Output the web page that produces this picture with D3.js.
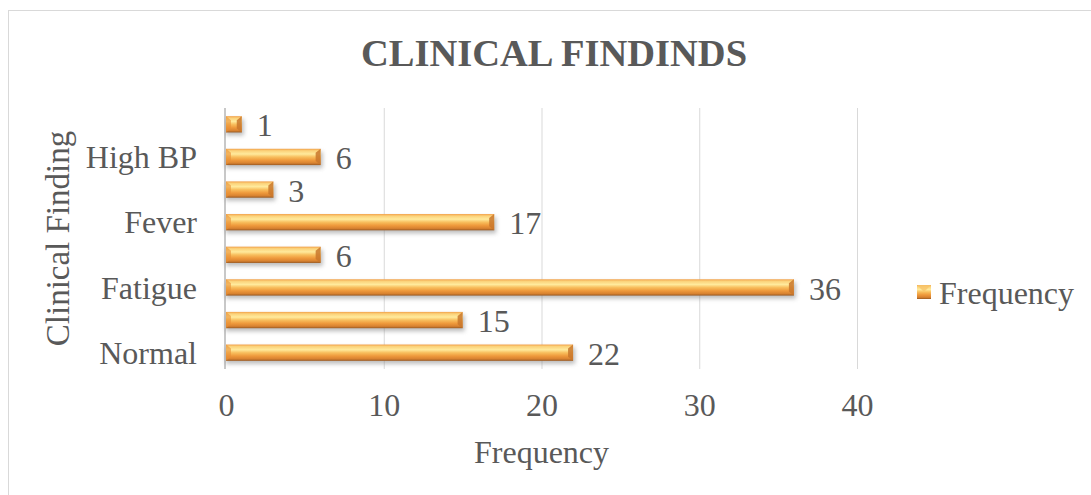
<!DOCTYPE html>
<html>
<head>
<meta charset="utf-8">
<script src="https://cdn.jsdelivr.net/npm/d3@7"></script>
<style>
  html, body { margin: 0; padding: 0; background: #fff; }
  svg { display: block; }
  text { font-family: "Liberation Serif", "Times New Roman", serif; fill: #595959; }
</style>
</head>
<body>
<svg id="chart" width="1091" height="495"></svg>
<script>
// Clinical findings, listed bottom to top; only every other category is labelled on the axis
const categories = ["Normal", "", "Fatigue", "", "Fever", "", "High BP", ""];
const frequency = [22, 15, 36, 6, 17, 3, 6, 1];
const xTicks = [0, 10, 20, 30, 40];
const seriesName = "Frequency";
const chartTitle = "CLINICAL FINDINDS";
const xTitle = "Frequency";
const yTitle = "Clinical Finding";

const svg = d3.select("#chart");
const plot = { left: 226, right: 857, top: 108, bottom: 369 };
const fontSize = 32;

// outer chart frame
svg.append("rect")
  .attr("x", 8.5).attr("y", 10.5)
  .attr("width", 1100).attr("height", 500)
  .attr("fill", "#fff").attr("stroke", "#d9d9d9").attr("stroke-width", 1);

const defs = svg.append("defs");
const grad = defs.append("linearGradient")
  .attr("id", "barFill").attr("x1", 0).attr("y1", 0).attr("x2", 0).attr("y2", 1);
[
  [0, "#f2a048"], [0.12, "#fbd27a"], [0.32, "#ffea9c"], [0.5, "#f8bf5e"],
  [0.7, "#ef9a3c"], [0.88, "#d88230"], [1, "#9a5a22"]
].forEach(([o, c]) => grad.append("stop").attr("offset", o).attr("stop-color", c));

const shadow = defs.append("filter").attr("id", "barShadow")
  .attr("x", "-10%").attr("y", "-50%").attr("width", "130%").attr("height", "250%");
shadow.append("feGaussianBlur").attr("stdDeviation", 2);

const x = d3.scaleLinear().domain([0, 40]).range([plot.left, plot.right]);
const y = d3.scaleBand()
  .domain(d3.range(categories.length))
  .range([plot.bottom, plot.top])
  .paddingInner(0.5).paddingOuter(0.25);

// vertical gridlines
const xAxis = d3.axisBottom(x).tickValues(xTicks).tickSize(-(plot.bottom - plot.top));
const gx = svg.append("g").attr("transform", `translate(0,${plot.bottom})`).call(xAxis);
gx.select(".domain").remove();
gx.selectAll(".tick line").attr("stroke", "#d9d9d9").attr("stroke-width", 1)
  .filter(d => d === 0).remove();
gx.selectAll(".tick text")
  .attr("font-size", fontSize).attr("fill", "#595959")
  .attr("font-family", "Liberation Serif, serif")
  .attr("y", 47).attr("dy", 0);

// category axis
const yAxis = d3.axisLeft(y).tickFormat(i => categories[i]).tickSize(0).tickPadding(29);
const gy = svg.append("g").attr("transform", `translate(${plot.left},0)`).call(yAxis);
gy.select(".domain").remove();
gy.selectAll(".tick text")
  .attr("font-size", fontSize).attr("fill", "#595959")
  .attr("font-family", "Liberation Serif, serif")
  .attr("dy", "0.35em");

svg.append("line")
  .attr("x1", plot.left - 1).attr("x2", plot.left - 1)
  .attr("y1", plot.top).attr("y2", plot.bottom)
  .attr("stroke", "#c8c8c8").attr("stroke-width", 2);

// bars with bevelled look
const bars = svg.append("g").selectAll("g.bar")
  .data(frequency.map((v, i) => ({ v, i })))
  .join("g").attr("class", "bar");

bars.append("rect")
  .attr("x", plot.left).attr("y", d => y(d.i) + 3)
  .attr("width", d => x(d.v) - plot.left + 2).attr("height", y.bandwidth())
  .attr("fill", "#7a7a7a").attr("opacity", 0.5)
  .attr("filter", "url(#barShadow)");

bars.append("rect")
  .attr("x", plot.left).attr("y", d => y(d.i))
  .attr("width", d => x(d.v) - plot.left).attr("height", y.bandwidth())
  .attr("fill", "url(#barFill)");

// right-end bevel facet
bars.append("path")
  .attr("d", d => {
    const x1 = x(d.v), y0 = y(d.i), y1 = y0 + y.bandwidth();
    const b = Math.min(5, (x(d.v) - plot.left) / 2);
    return `M${x1 - b},${y0 + 4}L${x1},${y0}L${x1},${y1}L${x1 - b},${y1 - 4}Z`;
  })
  .attr("fill", "#c9772c").attr("opacity", 0.85);

// left-end bevel facet
bars.append("path")
  .attr("d", d => {
    const x0 = plot.left, y0 = y(d.i), y1 = y0 + y.bandwidth();
    const b = Math.min(5, (x(d.v) - plot.left) / 2);
    return `M${x0},${y0}L${x0 + b},${y0 + 4}L${x0 + b},${y1 - 4}L${x0},${y1}Z`;
  })
  .attr("fill", "#e98f35").attr("opacity", 0.6);

// value labels
svg.append("g").selectAll("text")
  .data(frequency.map((v, i) => ({ v, i })))
  .join("text")
  .attr("x", d => x(d.v) + 15)
  .attr("y", d => y(d.i) + y.bandwidth() / 2)
  .attr("dy", "0.38em")
  .attr("font-size", fontSize)
  .text(d => d.v);

// titles
svg.append("text")
  .attr("x", 554).attr("y", 66)
  .attr("text-anchor", "middle")
  .attr("font-size", 38.5).attr("font-weight", "bold")
  .text(chartTitle);

svg.append("text")
  .attr("x", (plot.left + plot.right) / 2).attr("y", 463)
  .attr("text-anchor", "middle")
  .attr("font-size", fontSize)
  .text(xTitle);

svg.append("text")
  .attr("transform", `translate(69,${(plot.top + plot.bottom) / 2}) rotate(-90)`)
  .attr("text-anchor", "middle")
  .attr("font-size", 33)
  .text(yTitle);

// legend
const lg = svg.append("g").attr("transform", "translate(917,285)");
lg.append("rect").attr("width", 14).attr("height", 14).attr("fill", "url(#barFill)");
lg.append("path").attr("d", "M0,0L14,0L7,7Z").attr("fill", "#f7c46a").attr("opacity", 0.8);
lg.append("text").attr("x", 22).attr("y", 7).attr("dy", "0.38em")
  .attr("font-size", fontSize).text(seriesName);
</script>
</body>
</html>
